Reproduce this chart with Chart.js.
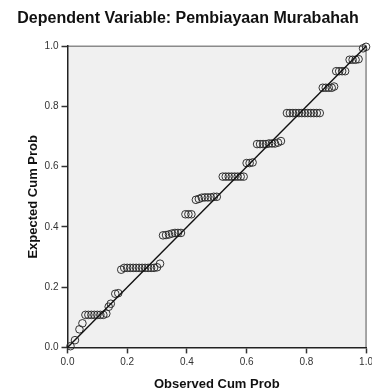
<!DOCTYPE html>
<html>
<head>
<meta charset="utf-8">
<script src="https://cdn.jsdelivr.net/npm/chart.js@4/dist/chart.umd.min.js"></script>
<style>
  html, body { margin: 0; padding: 0; background: #fff; overflow: hidden; }
  #wrap { width: 376px; height: 392px; }
</style>
</head>
<body>
<div id="wrap"><canvas id="ppChart" width="376" height="392"></canvas></div>
<script>
const chartTitle = 'Dependent Variable: Pembiayaan Murabahah';
const xTitle = 'Observed Cum Prob';
const yTitle = 'Expected Cum Prob';
const tickValues = [0.0, 0.2, 0.4, 0.6, 0.8, 1.0];

// observed / expected cumulative probabilities
const observedCum = [
  0.010, 0.025, 0.040, 0.050,
  0.060, 0.070, 0.080, 0.090, 0.100, 0.110, 0.120, 0.130,
  0.138, 0.145, 0.160, 0.170,
  0.180, 0.190, 0.200, 0.210, 0.220, 0.230, 0.240, 0.250, 0.260, 0.270, 0.280, 0.290, 0.300, 0.310,
  0.320, 0.330, 0.340, 0.350, 0.360, 0.370, 0.380,
  0.395, 0.405, 0.415,
  0.430, 0.440, 0.450, 0.460, 0.470, 0.480, 0.490, 0.500,
  0.520, 0.530, 0.540, 0.550, 0.560, 0.570, 0.580, 0.590,
  0.600, 0.610, 0.620,
  0.635, 0.645, 0.655, 0.665, 0.675, 0.685, 0.695, 0.705, 0.715,
  0.735, 0.745, 0.755, 0.765, 0.775, 0.785, 0.795, 0.805, 0.815, 0.825, 0.835, 0.845,
  0.855, 0.865, 0.875, 0.885, 0.893,
  0.900, 0.910, 0.920, 0.930,
  0.945, 0.955, 0.965, 0.975,
  0.990, 1.000
];
const expectedCum = [
  0.004, 0.024, 0.060, 0.080,
  0.108, 0.108, 0.108, 0.108, 0.108, 0.108, 0.108, 0.112,
  0.135, 0.145, 0.178, 0.180,
  0.258, 0.264, 0.264, 0.264, 0.264, 0.264, 0.264, 0.264, 0.264, 0.264, 0.264, 0.264, 0.266, 0.278,
  0.372, 0.373, 0.375, 0.378, 0.380, 0.380, 0.380,
  0.442, 0.442, 0.442,
  0.490, 0.493, 0.497, 0.498, 0.498, 0.498, 0.500, 0.500,
  0.567, 0.567, 0.567, 0.567, 0.567, 0.567, 0.567, 0.567,
  0.612, 0.612, 0.614,
  0.675, 0.675, 0.675, 0.675, 0.677, 0.677, 0.677, 0.680, 0.685,
  0.778, 0.778, 0.778, 0.778, 0.778, 0.778, 0.778, 0.778, 0.778, 0.778, 0.778, 0.778,
  0.862, 0.862, 0.862, 0.862, 0.866,
  0.917, 0.917, 0.917, 0.917,
  0.955, 0.955, 0.955, 0.957,
  0.993, 0.998
];
const refLineX = [0, 1];
const refLineY = [0, 1];

const plotFrame = {
  id: 'plotFrame',
  beforeDraw: (chart) => {
    const { ctx, chartArea: { left, top, right, bottom } } = chart;
    ctx.save();
    ctx.fillStyle = '#f0f0f0';
    ctx.fillRect(left, top, right - left, bottom - top);
    ctx.strokeStyle = '#8a8a8a';
    ctx.lineWidth = 1.5;
    ctx.beginPath();
    ctx.moveTo(left, top);
    ctx.lineTo(right, top);
    ctx.lineTo(right, bottom);
    ctx.stroke();
    ctx.restore();
  }
};

const axisOpts = (titleText, titlePad) => ({
  type: 'linear',
  min: 0,
  max: 1,
  afterBuildTicks: (scale) => { scale.ticks = tickValues.map(v => ({ value: v })); },
  ticks: {
    color: '#333',
    font: { family: 'Liberation Sans, Arial, sans-serif', size: 10 },
    padding: 3,
    callback: (v) => Number(v).toFixed(1)
  },
  grid: { drawOnChartArea: false, drawTicks: true, tickLength: 6, tickColor: '#333', tickWidth: 1.5 },
  border: { color: '#222', width: 1.5 },
  title: {
    display: true,
    text: titleText,
    color: '#111',
    font: { family: 'Liberation Sans, Arial, sans-serif', size: 13, weight: 'bold' },
    padding: titlePad
  }
});

const createPPChart = () => {
  const ctx = document.getElementById('ppChart').getContext('2d');

  const points = observedCum.map((x, i) => ({ x, y: expectedCum[i] }));
  const line = refLineX.map((x, i) => ({ x, y: refLineY[i] }));

  new Chart(ctx, {
    type: 'scatter',
    data: {
      datasets: [{
        data: line,
        showLine: true,
        borderColor: '#111',
        borderWidth: 1.4,
        pointRadius: 0,
        clip: false
      }, {
        data: points,
        pointRadius: 3.8,
        pointBorderWidth: 1,
        borderColor: 'rgba(40,40,40,0.95)',
        backgroundColor: 'rgba(0,0,0,0)',
        clip: false
      }]
    },
    options: {
      responsive: false,
      animation: false,
      layout: { padding: { left: 0, right: 0, top: 0, bottom: 0 } },
      plugins: {
        legend: { display: false },
        tooltip: { enabled: false },
        title: {
          display: true,
          text: chartTitle,
          color: '#111',
          font: { family: 'Liberation Sans, Arial, sans-serif', size: 16, weight: 'bold' },
          padding: { top: 9, bottom: 18 }
        }
      },
      scales: {
        x: axisOpts(xTitle, { top: 5, bottom: 0 }),
        y: axisOpts(yTitle, { top: 26, bottom: 0 })
      }
    },
    plugins: [plotFrame]
  });
};

window.onload = () => {
  createPPChart();
};
</script>
</body>
</html>
